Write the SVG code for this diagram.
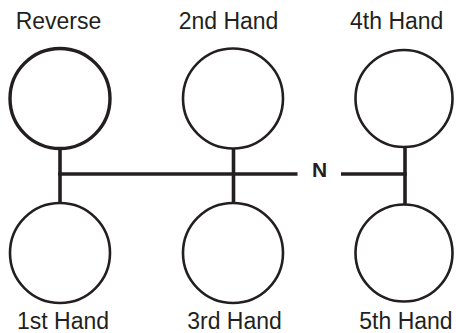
<svg xmlns="http://www.w3.org/2000/svg" width="456" height="333" viewBox="0 0 456 333">
<style>
.c{fill:#fff;stroke:#231f20;stroke-width:2.6}
.t{font-family:"Liberation Sans",Arial,sans-serif;font-size:23px;fill:#231f20;text-anchor:middle}
.l{stroke:#231f20;stroke-width:3.6;fill:none}
</style>
<rect width="456" height="333" fill="#fff"/>
<g id="connectors">
<line class="l" x1="60" y1="148" x2="60" y2="204"/>
<line class="l" x1="233.5" y1="148" x2="233.5" y2="204"/>
<line class="l" x1="405" y1="147" x2="405" y2="204"/>
<line class="l" x1="58.2" y1="174" x2="297.5" y2="174"/>
<line class="l" x1="341" y1="174" x2="406.8" y2="174"/>
</g>
<g id="reverse"><circle class="c" cx="60" cy="98.5" r="50" style="stroke-width:3.4"/><text class="t" x="58.5" y="29">Reverse</text></g>
<g id="second"><circle class="c" cx="233" cy="98.5" r="50"/><text class="t" x="228.5" y="29">2nd Hand</text></g>
<g id="fourth"><circle class="c" cx="404" cy="98.5" r="48.5"/><text class="t" x="396.7" y="29">4th Hand</text></g>
<g id="first"><circle class="c" cx="60" cy="253" r="50"/><text class="t" x="63" y="329">1st Hand</text></g>
<g id="third"><circle class="c" cx="233" cy="253" r="50"/><text class="t" x="234.5" y="329">3rd Hand</text></g>
<g id="fifth"><circle class="c" cx="404" cy="253" r="48.5"/><text class="t" x="406" y="329">5th Hand</text></g>
<g id="neutral"><text class="t" x="319.5" y="176.7" style="font-size:21px;font-weight:bold">N</text></g>
</svg>
